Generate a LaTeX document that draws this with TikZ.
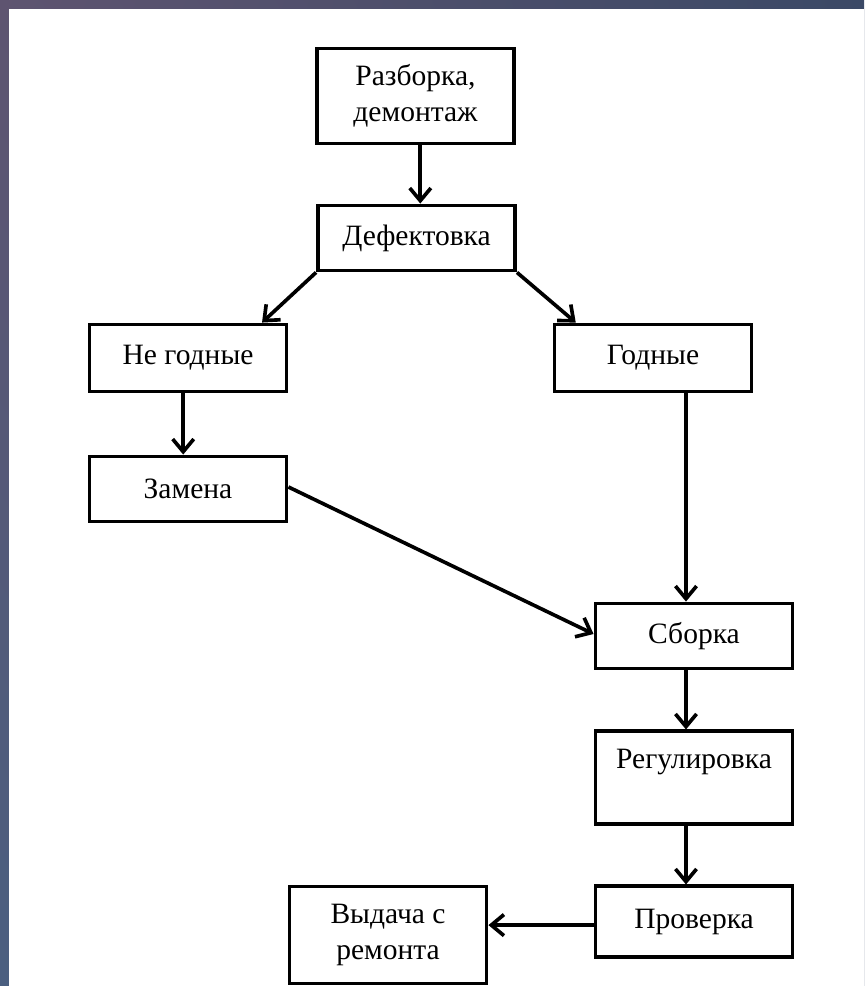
\documentclass[tikz,border=0pt]{standalone}
\usepackage{fontspec}
\setmainfont{Liberation Serif}
\newfontfamily\boxfont{Liberation Serif}
\usepackage[usenames,dvipsnames]{xcolor}
\usetikzlibrary{arrows.meta,calc,shadings}
\definecolor{FrameTL}{HTML}{5E5470}
\definecolor{FrameTR}{HTML}{3B4966}
\definecolor{FrameBL}{HTML}{4B5F80}

\begin{document}
\begin{tikzpicture}[x=0.025cm,y=-0.025cm]
    \tikzstyle{StepBox}=[rectangle, draw, line width = 2.6pt, fill = white, text = black,
                         minimum width = 4.93cm, align = center,
                         font = \boxfont\fontsize{21}{26}\selectfont]
    \tikzstyle{Flow}=[line width = 2.6pt, -{Straight Barb[length=9pt,width=15pt,line width=2.6pt]}]
    \useasboundingbox (0,0) rectangle (864,986);
    \shade[upper left = FrameTL, upper right = FrameTR, lower left = FrameBL, lower right = FrameTR]
        (0,0) rectangle (864,986);
    \fill[white] (8.5,8.5) rectangle (864,986);
    \node[StepBox, minimum height = 2.38cm]  (razb)     at (415.5,96)  {Разборка,\\демонтаж};
    \node[StepBox, minimum height = 1.63cm]  (defekt)   at (416.5,238) {Дефектовка};
    \node[StepBox, minimum height = 1.68cm]  (negod)    at (188,358)   {Не годные};
    \node[StepBox, minimum height = 1.68cm]  (god)      at (653,358)   {Годные};
    \node[StepBox, minimum height = 1.63cm]  (zamena)   at (188,489)   {Замена};
    \node[StepBox, minimum height = 1.63cm]  (sborka)   at (694,636)   {Сборка};
    \node[StepBox, minimum height = 2.31cm]  (regul)    at (694,777.5) {Регулировка\\\mbox{}};
    \node[StepBox, minimum height = 1.76cm]  (proverka) at (694,921.5) {Проверка};
    \node[StepBox, minimum height = 2.43cm]  (vydacha)  at (388,935)   {Выдача с\\ремонта};
    \draw[Flow] ([xshift=0.12cm]razb.south) -- ([xshift=0.12cm]razb.south |- defekt.north);
    \draw[Flow] (defekt.south west) -- ([xshift=1.85cm]negod.north);
    \draw[Flow] (defekt.south east) -- ([xshift=0.58cm]god.north west);
    \draw[Flow] ([xshift=-0.12cm]negod.south) -- ([xshift=-0.12cm]zamena.north);
    \draw[Flow] ([yshift=0.05cm]zamena.east) -- ([yshift=0.05cm]sborka.west);
    \draw[Flow] ([xshift=-0.2cm]sborka.north |- god.south) -- ([xshift=-0.2cm]sborka.north);
    \draw[Flow] ([xshift=-0.2cm]sborka.south) -- ([xshift=-0.2cm]regul.north);
    \draw[Flow] ([xshift=-0.2cm]regul.south) -- ([xshift=-0.2cm]proverka.north);
    \draw[Flow] ([yshift=-0.09cm]proverka.west) -- ([yshift=-0.09cm]proverka.west -| vydacha.east);
\end{tikzpicture}
\end{document}
